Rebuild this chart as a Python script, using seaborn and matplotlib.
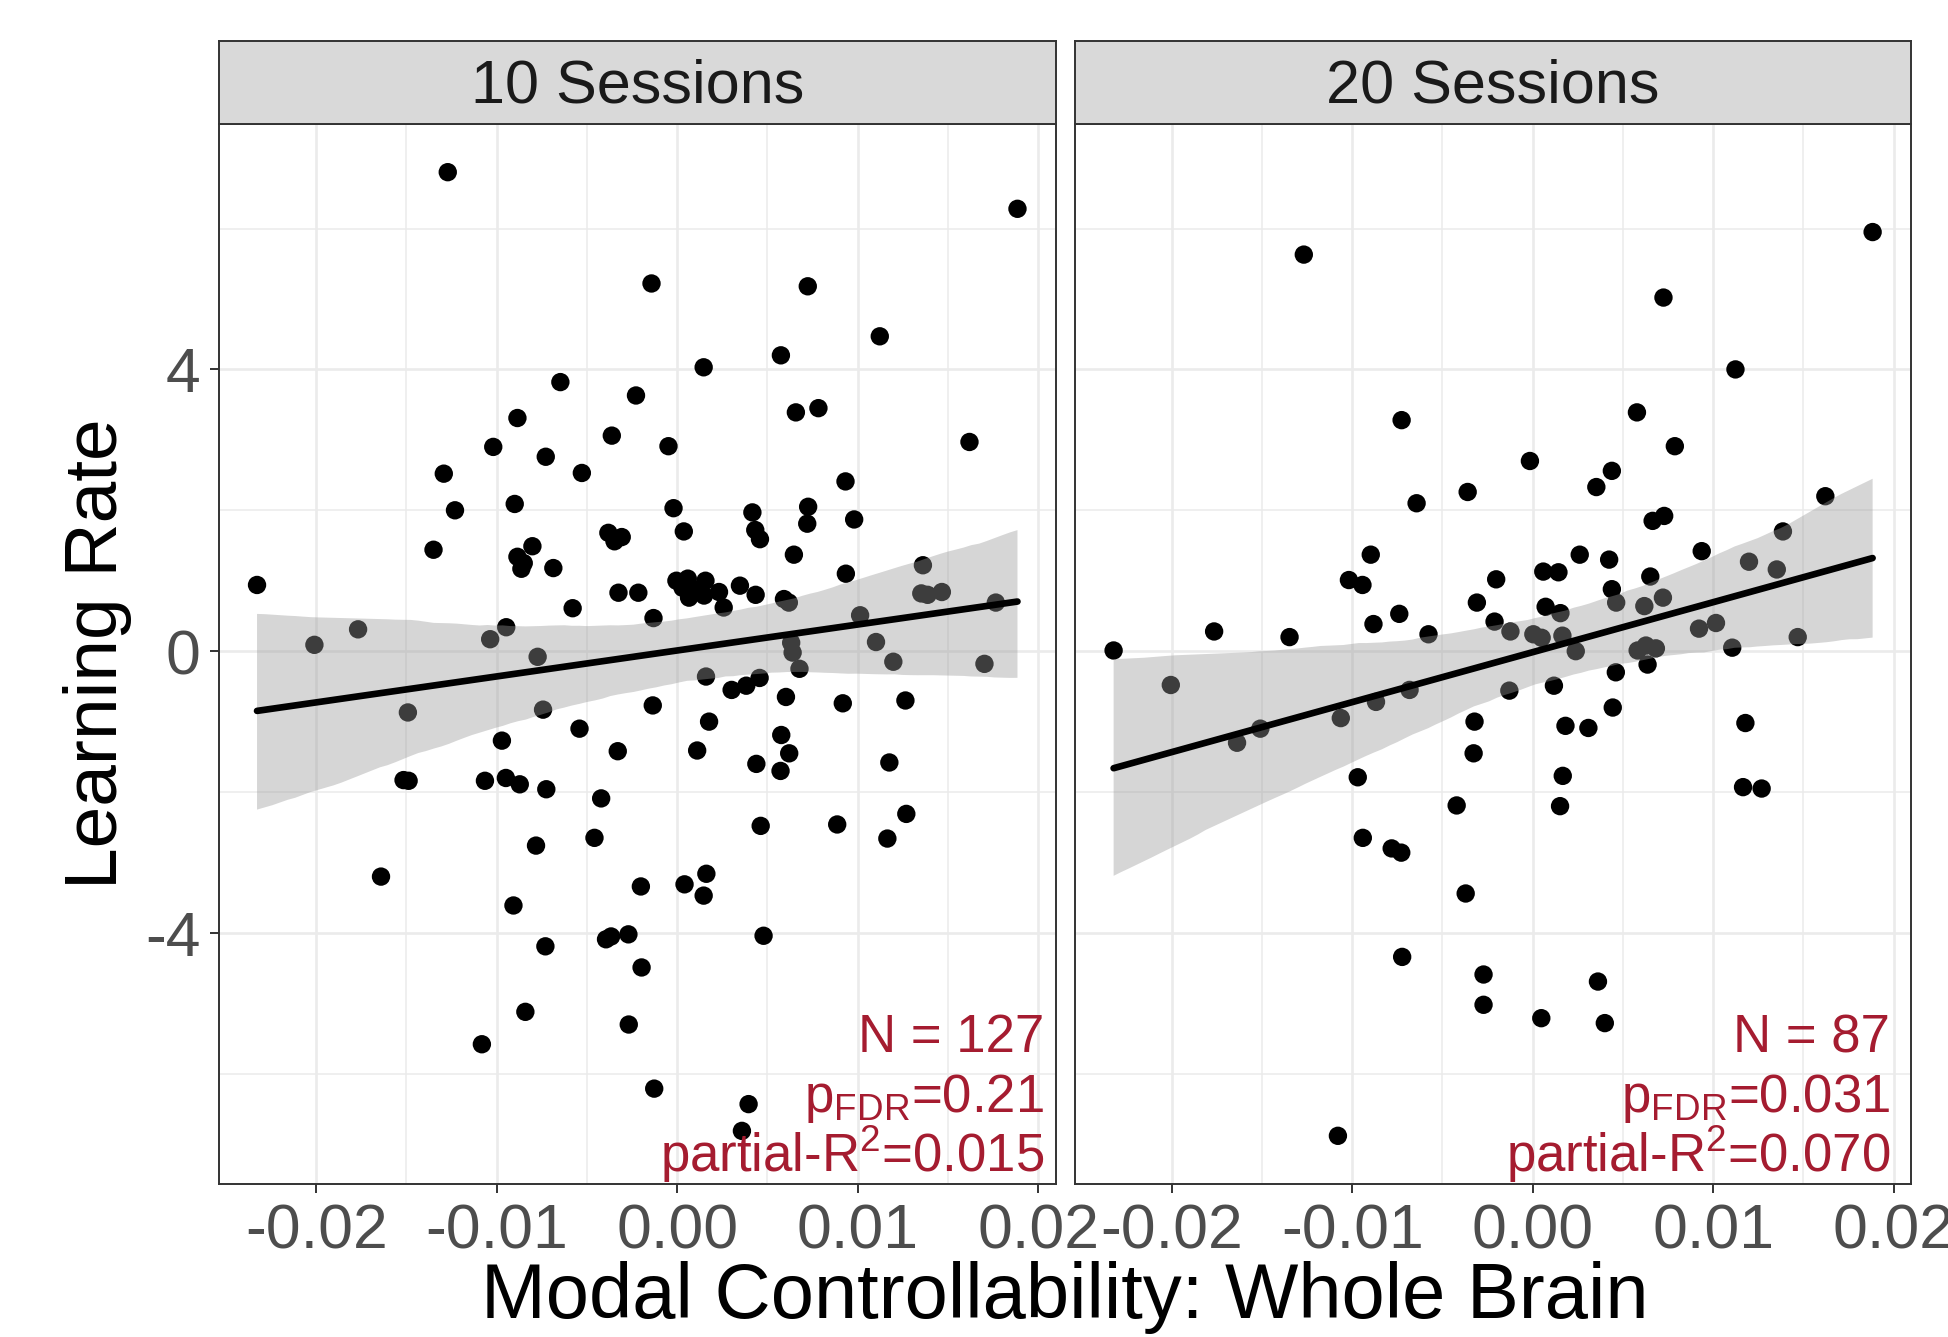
import numpy as np
import pandas as pd
import seaborn as sns
import matplotlib.pyplot as plt
from matplotlib.collections import PolyCollection

# Data (modal controllability vs learning rate)
mc_10 = [-0.01271, -0.00647, -0.00228, -0.00885, -0.00362, -0.01019, -0.00728, -0.01293,
         -0.00528, -0.01231, -0.00900, -0.00381, -0.00347, -0.00307, -0.00802, -0.00885,
         -0.00863, -0.00686, -0.01350, -0.02328, -0.00325, -0.00215, -0.00579, -0.01768,
         -0.02010, -0.01036, -0.00947, -0.00773, -0.01492, -0.00743, -0.00541, -0.00971,
         -0.00329, -0.01516, -0.01488, -0.01065, -0.00949, -0.00872, -0.00725, -0.00421,
         -0.00458, -0.00782, -0.01641, -0.00907, -0.00394, -0.00366, -0.00270, -0.00730,
         -0.00841, -0.00268, -0.01082, 0.01886, -0.00142, 0.00724, 0.01123, 0.00575,
         0.00147, 0.00658, 0.00783, -0.00048, 0.01620, 0.00933, -0.00020, 0.00037,
         0.00417, 0.00433, 0.00459, 0.00726, 0.00721, 0.00981, 0.00647, 0.00935,
         0.01362, -0.00004, 0.00059, 0.00066, 0.00157, 0.00149, 0.00232, 0.00258,
         0.00348, 0.00435, -0.00131, 0.00592, 0.00619, 0.01014, 0.01353, 0.01388,
         0.01467, 0.01766, 0.00632, 0.00640, 0.01102, 0.00678, 0.01198, 0.01703,
         0.00160, 0.00302, 0.00383, 0.00457, 0.00603, -0.00135, 0.00918, 0.01265,
         0.00177, 0.00577, 0.00111, 0.00621, 0.00439, 0.00573, 0.01176, 0.00463,
         0.00887, 0.01270, 0.01165, -0.00201, 0.00041, 0.00162, 0.00147, 0.00479,
         -0.00197, -0.00127, 0.00396, 0.00359, 0.00090, 0.00030, -0.00850]
lr_10 = [6.80, 3.82, 3.63, 3.31, 3.06, 2.90, 2.76, 2.52,
         2.53, 2.00, 2.09, 1.68, 1.56, 1.62, 1.49, 1.34,
         1.17, 1.18, 1.44, 0.94, 0.83, 0.83, 0.61, 0.31,
         0.09, 0.17, 0.34, -0.08, -0.87, -0.83, -1.10, -1.27,
         -1.42, -1.83, -1.84, -1.84, -1.80, -1.89, -1.96, -2.09,
         -2.65, -2.76, -3.20, -3.61, -4.09, -4.05, -4.02, -4.19,
         -5.12, -5.30, -5.58, 6.28, 5.22, 5.18, 4.47, 4.20,
         4.03, 3.39, 3.45, 2.91, 2.97, 2.41, 2.03, 1.70,
         1.97, 1.72, 1.59, 2.05, 1.81, 1.87, 1.37, 1.10,
         1.22, 1.00, 1.03, 0.76, 1.00, 0.79, 0.84, 0.62,
         0.93, 0.80, 0.47, 0.74, 0.69, 0.51, 0.82, 0.80,
         0.84, 0.69, 0.12, -0.02, 0.13, -0.25, -0.15, -0.18,
         -0.36, -0.55, -0.49, -0.38, -0.65, -0.77, -0.74, -0.70,
         -1.00, -1.19, -1.41, -1.45, -1.60, -1.70, -1.58, -2.48,
         -2.46, -2.31, -2.66, -3.34, -3.31, -3.16, -3.47, -4.04,
         -4.49, -6.21, -6.43, -6.81, 0.88, 0.90, 1.25]

mc_20 = [-0.01268, -0.00726, -0.00360, -0.00643, -0.00897, -0.01018, -0.00943, -0.00309,
         -0.00739, -0.00882, -0.00577, -0.01765, -0.01347, -0.02322, 0.01884, 0.00725,
         0.01124, 0.00578, 0.00788, -0.00015, 0.00439, 0.00353, 0.01622, 0.00665,
         0.00729, 0.01387, 0.00937, 0.00261, 0.00424, 0.01199, 0.01353, 0.00059,
         0.00143, -0.00202, 0.00652, 0.00439, 0.00463, 0.00619, 0.00722, 0.00072,
         0.00154, -0.00211, -0.00123, 0.00004, 0.00050, 0.00165, 0.00239, 0.00922,
         0.01016, 0.01469, 0.01106, 0.00582, 0.00628, 0.00683, -0.02005, -0.01638,
         -0.01509, -0.01063, -0.00868, -0.00682, -0.00322, -0.00327, -0.00969, -0.00421,
         -0.00941, -0.00781, -0.00728, -0.00371, -0.00723, -0.00272, -0.00272, -0.01079,
         -0.00129, 0.00118, 0.00461, 0.00637, 0.00182, 0.00309, 0.00444, 0.01179,
         0.00167, 0.00152, 0.01166, 0.01269, 0.00362, 0.00048, 0.00400]
lr_20 = [5.63, 3.28, 2.26, 2.10, 1.37, 1.01, 0.94, 0.69,
         0.53, 0.385, 0.24, 0.28, 0.20, 0.01, 5.95, 5.02,
         4.00, 3.39, 2.91, 2.70, 2.56, 2.33, 2.20, 1.85,
         1.92, 1.70, 1.42, 1.37, 1.30, 1.27, 1.16, 1.13,
         1.12, 1.02, 1.06, 0.88, 0.69, 0.64, 0.76, 0.63,
         0.54, 0.42, 0.28, 0.24, 0.19, 0.22, 0.00, 0.32,
         0.40, 0.20, 0.05, 0.01, 0.08, 0.04, -0.48, -1.30,
         -1.10, -0.95, -0.72, -0.55, -1.00, -1.45, -1.79, -2.19,
         -2.65, -2.80, -2.86, -3.44, -4.34, -4.59, -5.02, -6.88,
         -0.56, -0.49, -0.30, -0.19, -1.06, -1.09, -0.80, -1.02,
         -1.77, -2.20, -1.93, -1.95, -4.69, -5.21, -5.28]

panels = ['10 Sessions', '20 Sessions']
stats = [['N = 127', r'$\mathregular{p_{FDR}}$=0.21', r'partial-R$\mathregular{^2}$=0.015'],
         ['N = 87', r'$\mathregular{p_{FDR}}$=0.031', r'partial-R$\mathregular{^2}$=0.070']]
x_ticks = [-0.02, -0.01, 0.00, 0.01, 0.02]
x_minor = [-0.015, -0.005, 0.005, 0.015]
y_ticks = [-4, 0, 4]
y_minor = [-6, -2, 2, 6]

df = pd.concat([
    pd.DataFrame({'mc': mc_10, 'lr': lr_10, 'panel': panels[0]}),
    pd.DataFrame({'mc': mc_20, 'lr': lr_20, 'panel': panels[1]}),
])

# Setting plot properties.
sns.set_theme(style='white')
plt.rcParams['font.family'] = ['Liberation Sans', 'DejaVu Sans']
plt.rcParams['axes.unicode_minus'] = False

W, H = 1948, 1337
fig = plt.figure(figsize=(W / 100, H / 100), dpi=100)

# ggplot style 5% expansion of the shared scales
xr = df.mc.max() - df.mc.min()
yr = df.lr.max() - df.lr.min()
xlim = (df.mc.min() - 0.05 * xr, df.mc.max() + 0.05 * xr)
ylim = (df.lr.min() - 0.05 * yr, df.lr.max() + 0.05 * yr)

lefts = [219 / W, 1074.5 / W]
width = 836.5 / W
bottom = 1 - 1184 / H
height = (1184 - 124) / H
edge = '#333333'
red = '#A51C30'
text_right = [-8.3, -15]

for i, name in enumerate(panels):
    ax = fig.add_axes([lefts[i], bottom, width, height])
    sub = df[df.panel == name]
    sns.regplot(data=sub, x='mc', y='lr', ax=ax, color='black', ci=95, seed=3,
                scatter_kws=dict(s=175, edgecolor='none', alpha=1),
                line_kws=dict(lw=4.8))
    # ggplot-like confidence band (grey60, alpha .4) drawn above the points
    for coll in ax.collections:
        if isinstance(coll, PolyCollection):
            coll.set_alpha(0.4)
            coll.set_facecolor('#999999')
            coll.set_edgecolor('none')

    ax.set_xlim(xlim)
    ax.set_ylim(ylim)
    ax.set_xticks(x_ticks)
    ax.set_xticklabels(['%.2f' % t for t in x_ticks])
    ax.set_xticks(x_minor, minor=True)
    ax.set_yticks(y_ticks)
    ax.set_yticks(y_minor, minor=True)
    ax.grid(which='major', color='#ebebeb', lw=1.9)
    ax.grid(which='minor', color='#ebebeb', lw=1.1)
    ax.set_axisbelow(True)
    ax.tick_params(which='major', direction='out', length=6.5, width=1.4, color=edge,
                   labelsize=45, labelcolor='#4d4d4d', pad=7)
    ax.tick_params(which='minor', length=0)
    ax.tick_params(axis='x', bottom=True)
    if i == 0:
        ax.tick_params(axis='y', left=True)
    else:
        ax.tick_params(axis='y', left=False, labelleft=False)
    for sp in ax.spines.values():
        sp.set_color(edge)
        sp.set_linewidth(1.4)
    ax.set_xlabel(None)
    ax.set_ylabel(None)

    # Stats text, bottom right
    offs = [95, 52, 8.6]
    for txt, dy in zip(stats[i], offs):
        ax.annotate(txt, xy=(1, 0), xycoords='axes fraction', xytext=(text_right[i], dy),
                    textcoords='offset points', ha='right', va='baseline',
                    fontsize=38, color=red)

    # Facet strip
    sax = fig.add_axes([lefts[i], 1 - 124 / H, width, (124 - 41) / H])
    sax.set_facecolor('#d9d9d9')
    sax.set_xticks([])
    sax.set_yticks([])
    for sp in sax.spines.values():
        sp.set_color(edge)
        sp.set_linewidth(1.4)
    sax.text(0.5, 0.45, name, ha='center', va='center', fontsize=44, color='#1a1a1a',
             transform=sax.transAxes)

# Setting titles and legends.
fig.text(1065 / W, 1 - 1297 / H, 'Modal Controllability: Whole Brain', ha='center',
         va='center', fontsize=56, color='black')
fig.text(97 / W, 1 - 654 / H, 'Learning Rate', ha='center', va='center', fontsize=54,
         rotation=90, color='black')

fig.savefig('out.png', dpi=100)
